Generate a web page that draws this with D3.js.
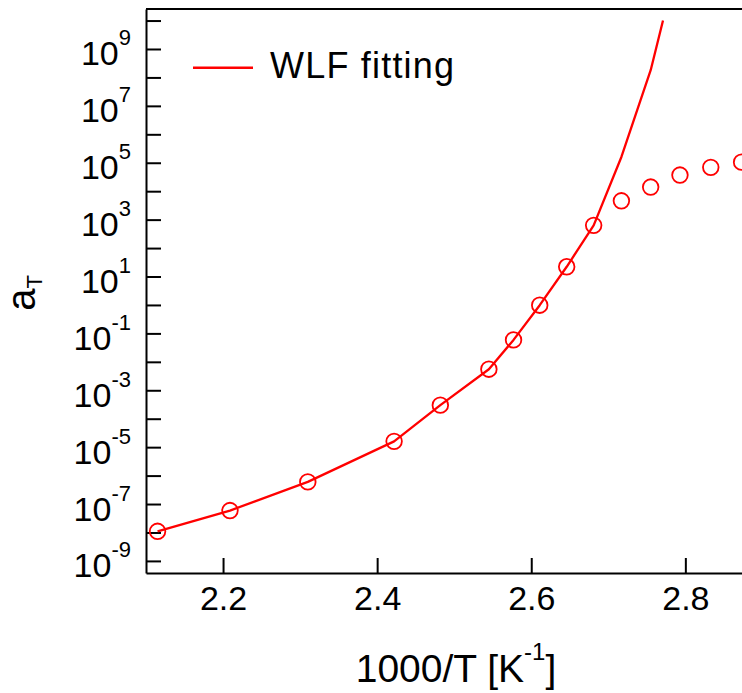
<!DOCTYPE html>
<html>
<head>
<meta charset="utf-8">
<script src="https://cdn.jsdelivr.net/npm/d3@7"></script>
<style>
  html, body { margin: 0; padding: 0; background: #fff; }
  svg { display: block; }
  text { font-family: "Liberation Sans", Arial, Helvetica, sans-serif; fill: #000; }
</style>
</head>
<body>
<svg id="chart" width="742" height="693"></svg>
<script>
// Shift factors measured at each temperature (x = 1000/T in K^-1)
const measuredX = [2.115, 2.209, 2.310, 2.422, 2.482, 2.545, 2.577, 2.611, 2.646, 2.681, 2.717, 2.755, 2.793, 2.833, 2.873];
const measuredAT = [1.1e-8, 5.9e-8, 6.0e-7, 1.6e-5, 3.0e-4, 5.5e-3, 5.9e-2, 0.98, 22, 630, 4.6e3, 1.4e4, 3.7e4, 6.9e4, 1.05e5];

// WLF fitted curve
const fitX = [2.115, 2.209, 2.310, 2.422, 2.482, 2.545, 2.577, 2.611, 2.646, 2.681, 2.717, 2.755, 2.771];
const fitAT = [1.1e-8, 5.9e-8, 6.0e-7, 1.6e-5, 3.0e-4, 5.5e-3, 5.9e-2, 0.98, 22, 630, 1.6e5, 1.8e8, 1.0e10];

// Axis ticks
const xTicks = [2.2, 2.4, 2.6, 2.8];
const yTickExponents = d3.range(-9, 11);          // a tick at every decade
const yLabelExponents = [-9, -7, -5, -3, -1, 1, 3, 5, 7, 9];

const legendLabel = "WLF fitting";
const RED = "#ff0000";

const svg = d3.select("#chart");
const margin = { left: 146, top: 9, bottom: 573, right: 762.4 };

const x = d3.scaleLinear().domain([2.1, 2.9]).range([margin.left, margin.right]);
const y = d3.scaleLog().domain([Math.pow(10, -9.425), Math.pow(10, 10.406)]).range([margin.bottom, margin.top]);

// Frame (top and right edges)
svg.append("path")
  .attr("d", `M${margin.left},${margin.top}H${margin.right}V${margin.bottom}`)
  .attr("fill", "none").attr("stroke", "#000").attr("stroke-width", 2);

// Y axis
const yAxis = svg.append("g")
  .attr("transform", `translate(${margin.left},0)`)
  .call(d3.axisLeft(y)
    .tickValues(yTickExponents.map(e => Math.pow(10, e)))
    .tickSizeInner(-15).tickSizeOuter(0)
    .tickFormat(() => ""));
yAxis.select(".domain").attr("stroke-width", 2);
yAxis.selectAll(".tick line").attr("stroke-width", 2);

// Y tick labels with superscript exponents
const yLab = svg.append("g");
yLabelExponents.forEach(e => {
  const t = yLab.append("text")
    .attr("x", 131)
    .attr("y", y(Math.pow(10, e)) + 16.5)
    .attr("text-anchor", "end")
    .style("font-size", "34px");
  t.append("tspan").text("10");
  t.append("tspan").attr("dy", -20).style("font-size", "22px").text(String(e));
});

// X axis
const xAxis = svg.append("g")
  .attr("transform", `translate(0,${margin.bottom})`)
  .call(d3.axisBottom(x)
    .tickValues(xTicks)
    .tickSizeInner(-15).tickSizeOuter(0)
    .tickFormat(d3.format(".1f")));
xAxis.select(".domain").attr("stroke-width", 2);
xAxis.selectAll(".tick line").attr("stroke-width", 2);
xAxis.selectAll(".tick text")
  .attr("y", 37).attr("dy", null)
  .style("font-size", "34px")
  .style("font-family", "'Liberation Sans', Arial, Helvetica, sans-serif")
  .attr("fill", "#000");

// Axis titles
const xTitle = svg.append("text")
  .attr("x", 456).attr("y", 681.5)
  .attr("text-anchor", "middle")
  .style("font-size", "39px");
xTitle.append("tspan").text("1000/T [K");
xTitle.append("tspan").attr("dy", -22).style("font-size", "24px").text("-1");
xTitle.append("tspan").attr("dy", 22).text("]");

const yTitle = svg.append("text")
  .attr("transform", "translate(35,293) rotate(-90)")
  .attr("text-anchor", "middle")
  .style("font-size", "40px");
yTitle.append("tspan").text("a");
yTitle.append("tspan").attr("dy", 7).style("font-size", "22px").text("T");

// WLF fit line
const fitData = fitX.map((v, i) => [v, fitAT[i]]);
svg.append("path")
  .datum(fitData)
  .attr("d", d3.line().x(d => x(d[0])).y(d => y(d[1])))
  .attr("fill", "none")
  .attr("stroke", RED)
  .attr("stroke-width", 2.3)
  .attr("stroke-linejoin", "round");

// Measured shift factors
svg.append("g")
  .selectAll("circle")
  .data(measuredX.map((v, i) => [v, measuredAT[i]]))
  .join("circle")
  .attr("cx", d => x(d[0]))
  .attr("cy", d => y(d[1]))
  .attr("r", 7.8)
  .attr("fill", "none")
  .attr("stroke", RED)
  .attr("stroke-width", 1.8);

// Legend
svg.append("line")
  .attr("x1", 193).attr("x2", 253)
  .attr("y1", 67.7).attr("y2", 67.7)
  .attr("stroke", RED).attr("stroke-width", 2.5);
svg.append("text")
  .attr("x", 270).attr("y", 78)
  .style("font-size", "36px")
  .style("letter-spacing", "1.2px")
  .text(legendLabel);
</script>
</body>
</html>
